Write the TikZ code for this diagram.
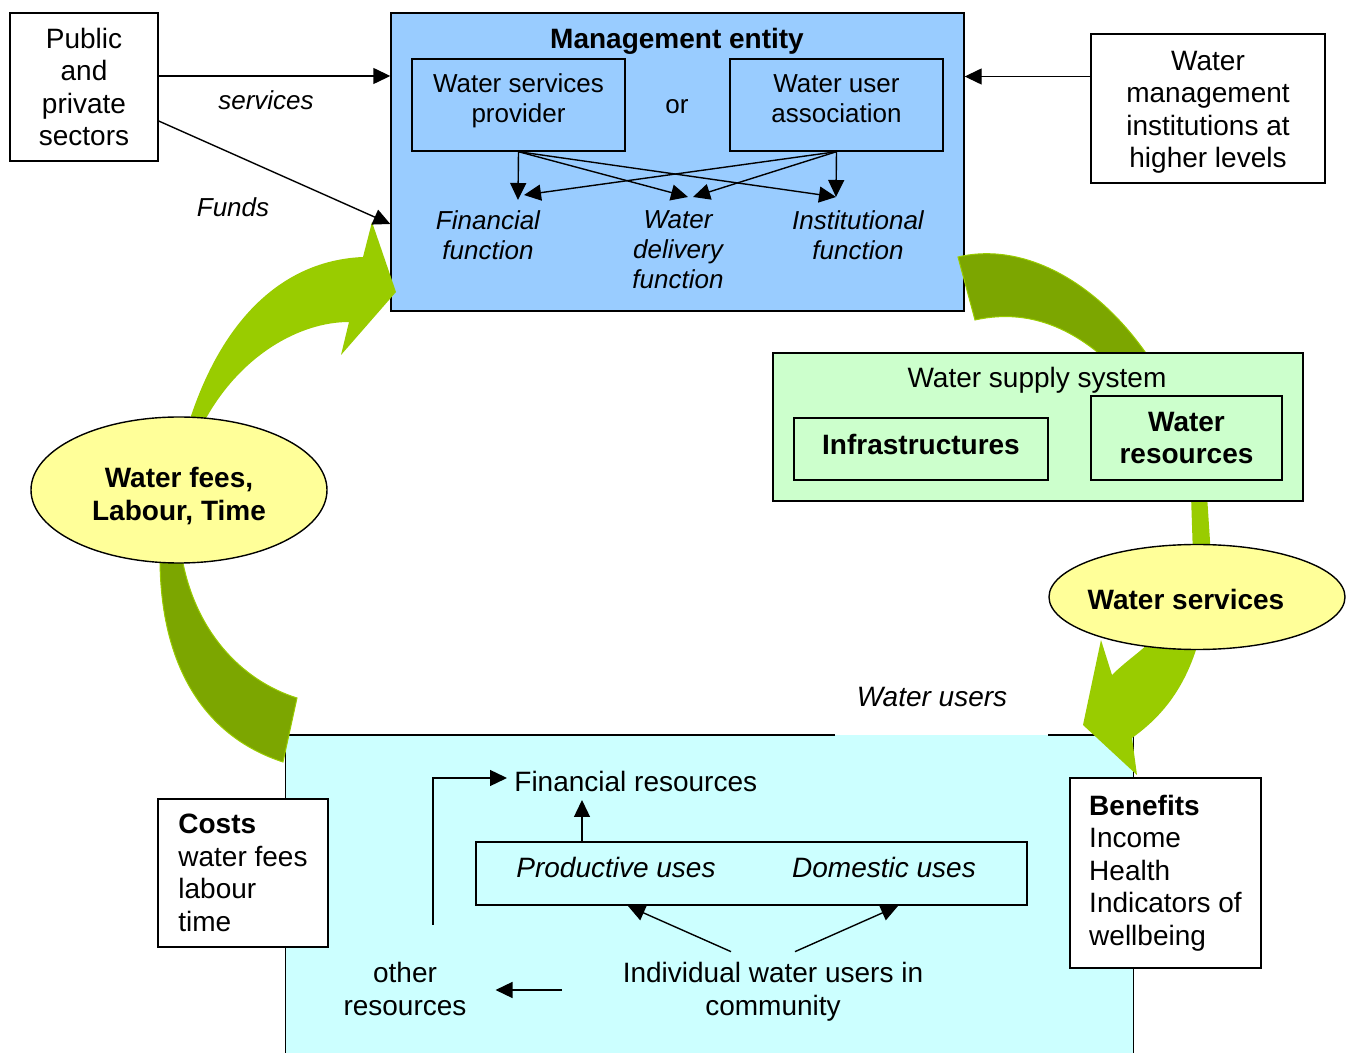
\documentclass[tikz,border=0pt]{standalone}
\usepackage{fontspec}
\setmainfont{Liberation Sans}
\usetikzlibrary{arrows.meta,shapes.geometric}
\definecolor{mgmtblue}{HTML}{99CCFF}
\definecolor{supplygreen}{HTML}{CCFFCC}
\definecolor{usercyan}{HTML}{CCFFFF}
\definecolor{bubbleyellow}{HTML}{FFFF99}
\definecolor{lightband}{HTML}{99CC00}
\definecolor{darkband}{HTML}{7CA600}
\tikzset{
  big/.style={font=\fontsize{14}{16.25}\selectfont},
  bigbold/.style={font=\fontsize{14}{16.25}\selectfont\bfseries},
  bigit/.style={font=\fontsize{14}{16.25}\selectfont\itshape},
  small/.style={font=\fontsize{13}{15}\selectfont},
  smallit/.style={font=\fontsize{13}{15}\selectfont\itshape},
  frame/.style={draw,line width=0.7pt,inner sep=0pt},
  bubble/.style={ellipse,draw,fill=bubbleyellow,line width=0.7pt,inner sep=0pt},
  flow/.style={line width=0.7pt,-{Triangle[length=8.5pt,width=8pt]}},
  lightarrow/.style={fill=lightband},
  darkarrow/.style={fill=darkband,draw=lightband,line width=0.5pt},
}
\begin{document}
\begin{tikzpicture}[x=0.5pt,y=-0.5pt]
\useasboundingbox (0,0) rectangle (1346,1053);

\node[frame,fill=mgmtblue,minimum width=286.5pt,minimum height=149pt] (mgmt) at (677.5,162) {};
\node[fill=usercyan,inner sep=0pt,minimum width=423.5pt,minimum height=159pt] (comm) at (709.5,894) {};
\draw[line width=0.7pt] (835,735) -| (comm.south west);
\draw[line width=0.7pt] (1048,735) -| (comm.south east);

\fill[lightarrow] (189,422) .. controls (225,310) and (290,260) .. (363,257) -- (372,222) -- (396,292)
  -- (341,355) -- (349,322) .. controls (300,322) and (240,355) .. (204,422) -- cycle;
\filldraw[darkarrow] (160,558) .. controls (160,660) and (200,735) .. (283,762) -- (297,698)
  .. controls (240,680) and (195,630) .. (182,558) -- cycle;
\filldraw[darkarrow] (958,257) .. controls (1030,240) and (1110,290) .. (1160,375) -- (1122,375)
  .. controls (1070,320) and (1020,310) .. (975,320) -- cycle;
\fill[lightarrow] (1191,495) -- (1207,495) -- (1211,556) -- (1193,556) -- cycle;
\fill[lightarrow] (1199,640) .. controls (1185,690) and (1160,718) .. (1132,738) -- (1137,775) -- (1083,725)
  -- (1101,640) -- (1112,675) .. controls (1125,662) and (1140,652) .. (1150,642) -- cycle;

\node[frame,fill=supplygreen,minimum width=265pt,minimum height=74pt] (wss) at (1038,427) {};
\node[big] (wsstitle) at (1037,380) {Water supply system};
\node[frame,minimum width=127pt,minimum height=31pt] (infra) at (921,449) {};
\node[bigbold] (infratext) at (921,444) {Infrastructures};
\node[frame,bigbold,align=center,minimum width=95.5pt,minimum height=42pt] (wres) at (1186.5,438) {Water\\resources};

\node[bubble,minimum width=148pt,minimum height=73pt] (fees) at (179,490) {};
\node[bigbold,align=center] (feestext) at (179,496) {Water fees,\\Labour, Time};
\node[bubble,minimum width=148pt,minimum height=52.5pt] (wserv) at (1197,597) {};
\node[bigbold] (wservtext) at (1186,599) {Water services};

\node[bigbold] (mgmttitle) at (677,41) {Management entity};
\node[frame,minimum width=106.5pt,minimum height=46pt] (wsp) at (518.5,105) {};
\node[small,align=center] (wsptext) at ([yshift=2pt]wsp.center) {Water services\\provider};
\node[small] (or) at (677,107) {or};
\node[frame,minimum width=106.5pt,minimum height=46pt] (wua) at (836.5,105) {};
\node[small,align=center] (wuatext) at ([yshift=3pt]wua.center) {Water user\\association};
\node[smallit,align=center] (fin) at (488,235) {Financial\\function};
\node[smallit,align=center] (deliv) at (678,250) {Water\\delivery\\function};
\node[smallit,align=center] (inst) at (858,235) {Institutional\\function};
\coordinate (finA) at (518,200);
\coordinate (finB) at (524,195);
\coordinate (delA) at (688,197);
\coordinate (delB) at (693,197);
\coordinate (instA) at (836,197);
\draw[flow] (wsp.south) -- (finA);
\draw[flow] (wsp.south) -- (delA);
\draw[flow] (wsp.south) -- (instA);
\draw[flow] (wua.south) -- (finB);
\draw[flow] (wua.south) -- (delB);
\draw[flow] (wua.south) -- (instA);

\node[frame,big,align=center,minimum width=74pt,minimum height=74pt] (pub) at (84,87) {Public\\and\\private\\sectors};
\node[frame,minimum width=117pt,minimum height=74.5pt] (wmi) at (1208,108.5) {};
\node[big,align=center] (wmitext) at (1208,112.5) {Water\\management\\institutions at\\higher levels};
\draw[flow] ([yshift=5.5pt]pub.east) -- ([yshift=5.5pt]pub.east -| mgmt.west);
\draw[flow] ([yshift=-17pt]pub.east) -- ([yshift=-31pt]mgmt.west);
\node[smallit] (servlbl) at (266,100) {services};
\node[smallit] (fundslbl) at (233,207) {Funds};
\draw[flow] ([yshift=16pt]wmi.west) -- ([yshift=16pt]wmi.west -| mgmt.east);

\node[bigit] (userslbl) at (932,697) {Water users};
\node[frame,minimum width=275.5pt,minimum height=31.5pt] (uses) at (751.5,873.5) {};
\node[bigit] (prod) at (616,867) {Productive uses};
\node[bigit] (dom) at (884,867) {Domestic uses};
\node[big,anchor=west,inner sep=3.5pt] (finres) at (507,781) {Financial resources};
\node[big,align=center] (indiv) at (773,992) {Individual water users in\\community};
\node[big,align=center] (other) at (405,989) {other\\resources};
\coordinate (frfoot) at (582,800);
\coordinate (loopstart) at (433,925);
\coordinate (prodin) at (628,906);
\coordinate (domin) at (898,906);
\coordinate (otherfoot) at (562,990);
\draw[flow] (frfoot |- uses.north) -- (frfoot);
\draw[flow] (loopstart) |- ([yshift=1.5pt]finres.west);
\draw[flow] ([xshift=-21pt,yshift=2pt]indiv.north) -- (prodin);
\draw[flow] ([xshift=11pt,yshift=2pt]indiv.north) -- (domin);
\draw[flow] (otherfoot) -- ([xshift=11pt]other.east |- otherfoot);

\node[frame,fill=white,big,align=left,minimum width=85pt,minimum height=74pt] (costs) at (243,873) {\textbf{Costs}\\water fees\\labour\\time};
\node[frame,fill=white,big,align=left,minimum width=95.5pt,minimum height=95pt] (benef) at (1165.5,873) {\textbf{Benefits}\\Income\\Health\\Indicators of\\wellbeing};
\end{tikzpicture}
\end{document}
